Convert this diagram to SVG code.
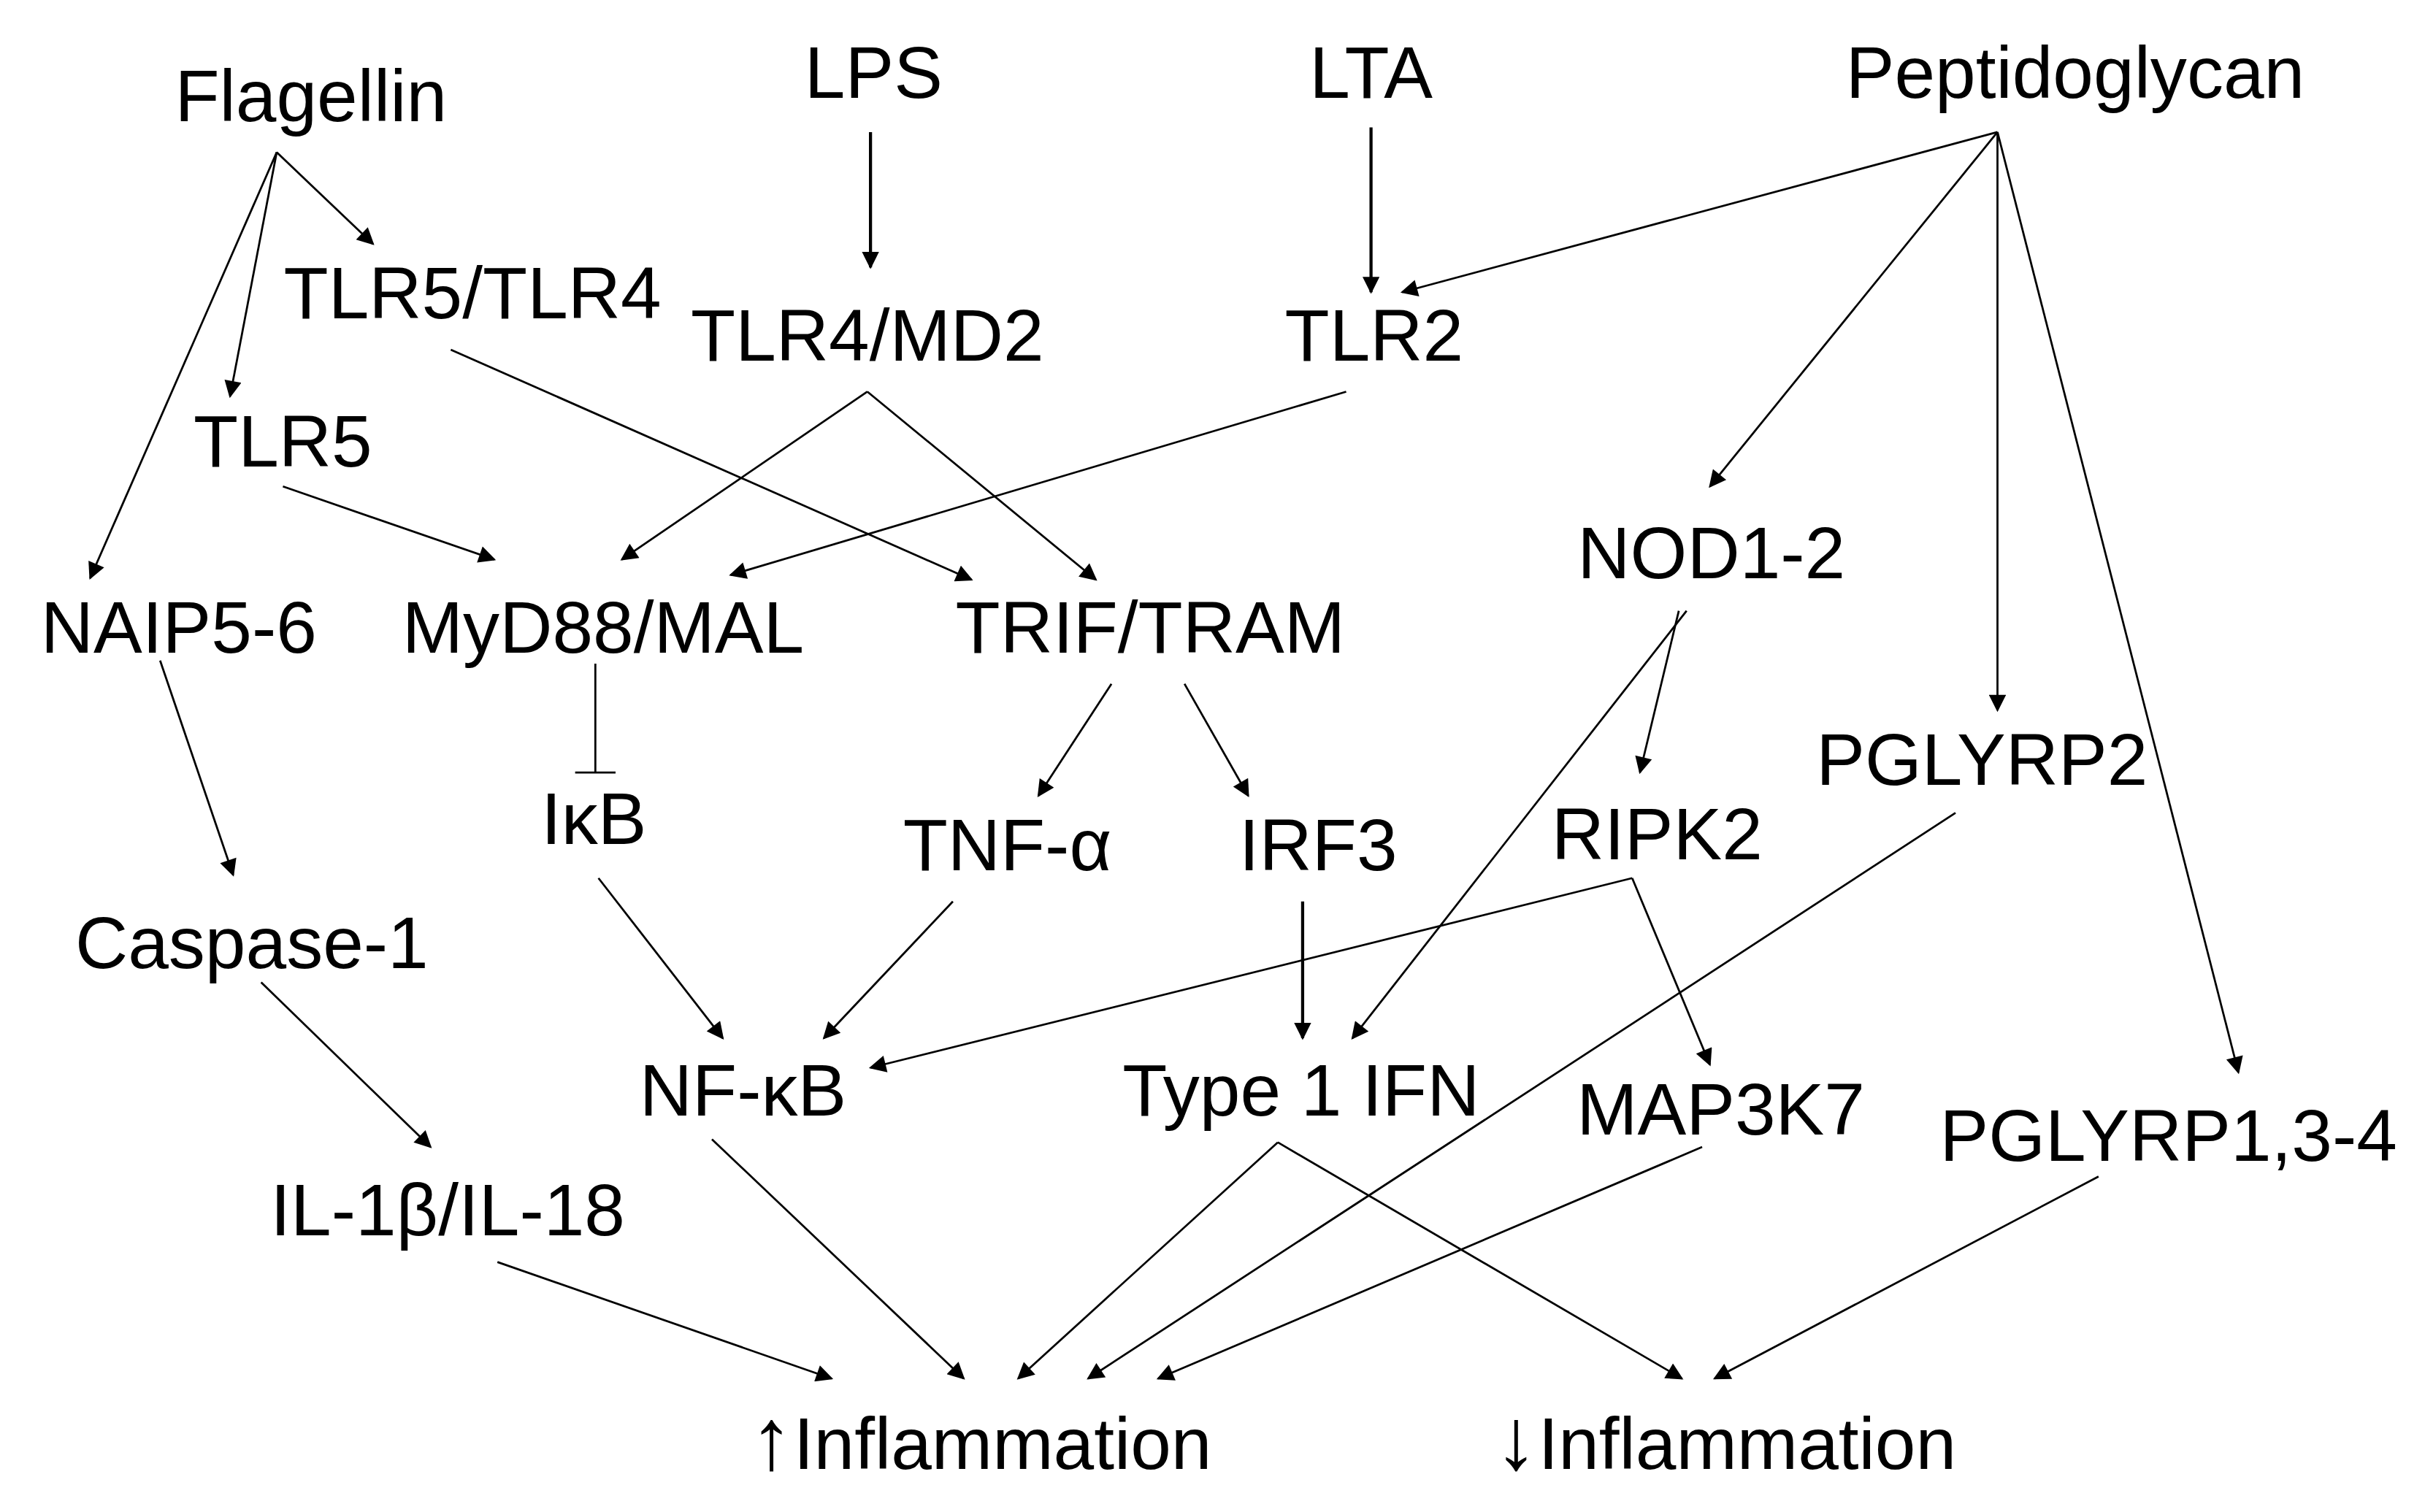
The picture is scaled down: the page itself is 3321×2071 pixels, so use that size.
<svg xmlns="http://www.w3.org/2000/svg" width="3321" height="2071" viewBox="0 0 3321 2071">
<style>
text{font-family:"Liberation Sans",Arial,sans-serif;font-size:47px;fill:#000;text-anchor:middle}
.c line{stroke:#000;stroke-width:1.3;fill:none}
.c .t{stroke-width:2}
.ar{font-size:56px}
</style>
<defs>
<marker id="a" viewBox="0 0 10 10" refX="9" refY="5" markerWidth="13" markerHeight="11" markerUnits="userSpaceOnUse" orient="auto"><path d="M0,0L10,5L0,10z" fill="#000"/></marker>
</defs>
<rect width="3321" height="2071" fill="#fff"/>
<g transform="scale(2.1288)">
<g id="flagellin"><text x="200" y="78">Flagellin</text></g>
<g id="lps"><text x="562" y="63">LPS</text></g>
<g id="lta"><text x="882" y="63">LTA</text></g>
<g id="peptidoglycan"><text x="1335" y="63">Peptidoglycan</text></g>
<g id="tlr5tlr4"><text x="304" y="205">TLR5/TLR4</text></g>
<g id="tlr4md2"><text x="558" y="232">TLR4/MD2</text></g>
<g id="tlr2"><text x="884" y="232">TLR2</text></g>
<g id="tlr5"><text x="182" y="300">TLR5</text></g>
<g id="naip"><text x="115" y="420">NAIP5-6</text></g>
<g id="myd88"><text x="388" y="420">MyD88/MAL</text></g>
<g id="trif"><text x="740" y="420">TRIF/TRAM</text></g>
<g id="nod"><text x="1101" y="372">NOD1-2</text></g>
<g id="pglyrp2"><text x="1275" y="505">PGLYRP2</text></g>
<g id="ikb"><text x="382" y="543">IκB</text></g>
<g id="tnf"><text x="648" y="560">TNF-α</text></g>
<g id="irf3"><text x="848" y="560">IRF3</text></g>
<g id="ripk2"><text x="1066" y="553">RIPK2</text></g>
<g id="casp"><text x="162" y="623">Caspase-1</text></g>
<g id="nfkb"><text x="478" y="718">NF-κB</text></g>
<g id="ifn"><text x="837" y="718">Type 1 IFN</text></g>
<g id="map3k7"><text x="1107" y="730">MAP3K7</text></g>
<g id="pglyrp1"><text x="1395" y="747">PGLYRP1,3-4</text></g>
<g id="il"><text x="288" y="795">IL-1β/IL-18</text></g>
<g id="up"><text x="631" y="945"><tspan class="ar">↑</tspan>Inflammation</text></g>
<g id="down"><text x="1110" y="945"><tspan class="ar">↓</tspan>Inflammation</text></g>
<g class="c" id="connectors">
<line x1="178" y1="98" x2="240" y2="157" marker-end="url(#a)"/>
<line x1="178" y1="98" x2="148" y2="255" marker-end="url(#a)"/>
<line x1="178" y1="98" x2="58" y2="372" marker-end="url(#a)"/>
<line class="t" x1="560" y1="85" x2="560" y2="172" marker-end="url(#a)"/>
<line class="t" x1="882" y1="82" x2="882" y2="188" marker-end="url(#a)"/>
<line x1="1285" y1="85" x2="902" y2="188" marker-end="url(#a)"/>
<line x1="1285" y1="85" x2="1100" y2="313" marker-end="url(#a)"/>
<line x1="1285" y1="85" x2="1285" y2="457" marker-end="url(#a)"/>
<line x1="1285" y1="85" x2="1440" y2="690" marker-end="url(#a)"/>
<line x1="290" y1="225" x2="625" y2="373" marker-end="url(#a)"/>
<line x1="558" y1="252" x2="400" y2="360" marker-end="url(#a)"/>
<line x1="558" y1="252" x2="705" y2="373" marker-end="url(#a)"/>
<line x1="866" y1="252" x2="470" y2="370" marker-end="url(#a)"/>
<line x1="182" y1="313" x2="318" y2="360" marker-end="url(#a)"/>
<line x1="383" y1="427" x2="383" y2="497"/>
<line x1="370" y1="497" x2="396" y2="497"/>
<line x1="103" y1="425" x2="150" y2="563" marker-end="url(#a)"/>
<line x1="715" y1="440" x2="668" y2="512" marker-end="url(#a)"/>
<line x1="762" y1="440" x2="803" y2="512" marker-end="url(#a)"/>
<line x1="1085" y1="393" x2="870" y2="668" marker-end="url(#a)"/>
<line x1="1080" y1="393" x2="1055" y2="497" marker-end="url(#a)"/>
<line x1="385" y1="565" x2="465" y2="668" marker-end="url(#a)"/>
<line x1="613" y1="580" x2="530" y2="668" marker-end="url(#a)"/>
<line x1="1050" y1="565" x2="560" y2="687" marker-end="url(#a)"/>
<line x1="1050" y1="565" x2="1100" y2="685" marker-end="url(#a)"/>
<line class="t" x1="838" y1="580" x2="838" y2="668" marker-end="url(#a)"/>
<line x1="168" y1="632" x2="277" y2="738" marker-end="url(#a)"/>
<line x1="320" y1="812" x2="535" y2="887" marker-end="url(#a)"/>
<line x1="458" y1="733" x2="620" y2="887" marker-end="url(#a)"/>
<line x1="822" y1="735" x2="655" y2="887" marker-end="url(#a)"/>
<line x1="822" y1="735" x2="1082" y2="887" marker-end="url(#a)"/>
<line x1="1258" y1="523" x2="700" y2="887" marker-end="url(#a)"/>
<line x1="1095" y1="738" x2="745" y2="887" marker-end="url(#a)"/>
<line x1="1350" y1="757" x2="1103" y2="887" marker-end="url(#a)"/>
</g>
</g>
</svg>
